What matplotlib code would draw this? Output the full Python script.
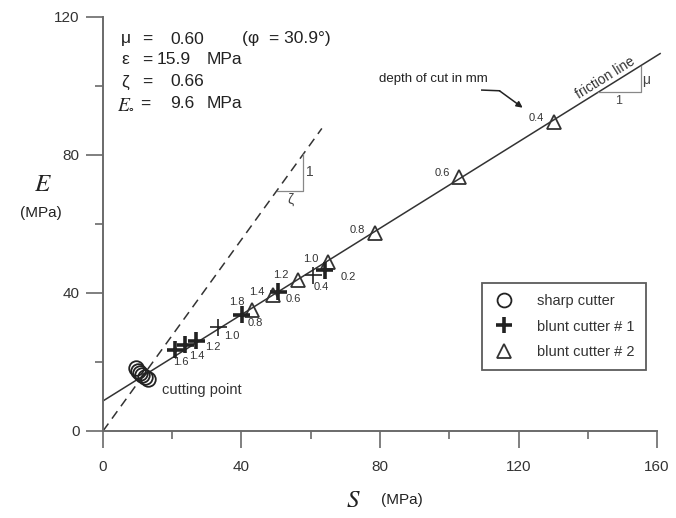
import matplotlib
matplotlib.use("Agg")
import matplotlib.pyplot as plt
import numpy as np

# ---------------- data ----------------
sharp_S = [9.4, 10.0, 10.7, 11.3, 12.1, 13.1]
sharp_E = [18.2, 17.5, 16.7, 16.2, 15.5, 15.0]

blunt1_depth = ["1.6", "1.4", "1.2", "1.0", "0.8", "0.6", "0.4", "0.2"]
blunt1_S = [20.8, 23.7, 26.9, 33.3, 40.1, 50.6, 60.7, 64.1]
blunt1_E = [23.5, 24.9, 26.1, 30.0, 33.6, 40.3, 45.1, 46.6]
blunt1_bold = [True, True, True, False, True, True, False, True]

blunt2_depth = ["1.8", "1.4", "1.2", "1.0", "0.8", "0.6", "0.4"]
blunt2_S = [42.9, 49.2, 56.4, 65.1, 78.6, 102.8, 130.3]
blunt2_E = [35.0, 39.4, 43.7, 49.0, 57.4, 73.5, 89.5]

friction_intercept = 8.7
friction_slope = 0.625
friction_S_end = 160.9
cutting_slope = 1.386
cutting_S_end = 63.2

x_major = [0, 40, 80, 120, 160]
x_minor = [20, 60, 100, 140]
y_major = [0, 40, 80, 120]
y_minor = [20, 60, 100]

legend_labels = ["sharp cutter", "blunt cutter # 1", "blunt cutter # 2"]

# ---------------- figure ----------------
W, H = 676, 518
fig = plt.figure(figsize=(W / 100, H / 100), dpi=100)
ax = fig.add_axes([103 / W, 1 - 431 / H, 554 / W, 414.5 / H])
ax.set_xlim(0, 160)
ax.set_ylim(0, 120)

def P(x, y):
    return (x / W, 1 - y / H)

sans = "Liberation Sans"
ink = "#222222"
grey = "#6a6a6a"

for s in ["top", "right"]:
    ax.spines[s].set_visible(False)
for s in ["left", "bottom"]:
    ax.spines[s].set_color(grey)
    ax.spines[s].set_linewidth(1.4)

ax.set_xticks(x_major)
ax.set_xticks(x_minor, minor=True)
ax.set_yticks(y_major)
ax.set_yticks(y_minor, minor=True)
ax.tick_params(which="major", direction="out", length=12, width=1.2, color=grey,
               labelsize=11, labelcolor="#333333", pad=5)
ax.tick_params(axis="x", which="major", pad=9)
ax.tick_params(which="minor", direction="out", length=6, width=1.2, color=grey)
for lab in ax.get_xticklabels() + ax.get_yticklabels():
    lab.set_fontfamily(sans)

# lines
fs = np.array([0, friction_S_end])
ax.plot(fs, friction_intercept + friction_slope * fs, color="#333333", lw=1.1,
        clip_on=False, zorder=2)
cs = np.array([0, cutting_S_end])
ax.plot(cs, cutting_slope * cs, color="#333333", lw=1.1, ls=(0, (6, 4)),
        clip_on=False, zorder=2)

# slope triangles
s1, s2 = 143.0, 155.3
e1 = friction_intercept + friction_slope * s1
e2 = friction_intercept + friction_slope * s2
ax.plot([s1, s2, s2], [e1, e1, e2], color="#888888", lw=0.9, zorder=2)
ax.text(s2 + 1.7, (e1 + e2) / 2 - 0.2, "μ", fontsize=10, family=sans, color="#444444",
        ha="center", va="center")
ax.text((s1 + s2) / 2 - 0.3, e1 - 2.6, "1", fontsize=9, family=sans, color="#444444",
        ha="center", va="center")

z2 = 57.8
ze1 = 69.6
ze2 = cutting_slope * z2
z1 = ze1 / cutting_slope
ax.plot([z1, z2, z2], [ze1, ze1, ze2], color="#888888", lw=0.9, zorder=2)
ax.text(z2 + 1.8, (ze1 + ze2) / 2, "1", fontsize=10, family=sans, color="#444444",
        ha="center", va="center")
ax.text((z1 + z2) / 2, ze1 - 2.7, "ζ", fontsize=10, family=sans, color="#444444",
        ha="center", va="center")

# markers
ax.plot(sharp_S, sharp_E, ls="none", marker="o", ms=10.5, mfc="none", mec=ink,
        mew=1.3, zorder=4)
lws = [2.6 if b else 1.2 for b in blunt1_bold]
ax.scatter(blunt1_S, blunt1_E, marker="+", s=150, c=ink, linewidths=lws, zorder=5)
ax.plot(blunt2_S, blunt2_E, ls="none", marker="^", ms=9.5, mfc="none", mec="#333333",
        mew=1.3, zorder=4)

# depth labels
off1 = [(6, -12), (12, -11), (17, -6), (13, -9), (13, -8), (15, -7), (8, -12), (23, -7)]
for d, x, y, o in zip(blunt1_depth, blunt1_S, blunt1_E, off1):
    ax.annotate(d, (x, y), xytext=o, textcoords="offset pixels", fontsize=8,
                family=sans, color="#333333", ha="center", va="center")
off2 = [(-15, 8), (-17, 3), (-17, 5), (-18, 3), (-18, 3), (-17, 4), (-18, 4)]
for d, x, y, o in zip(blunt2_depth, blunt2_S, blunt2_E, off2):
    ax.annotate(d, (x, y), xytext=o, textcoords="offset pixels", fontsize=8,
                family=sans, color="#333333", ha="center", va="center")

# annotations
ax.text(17.0, 11.9, "cutting point", fontsize=10.5, family=sans, color="#333333",
        ha="left", va="center")
ang = np.degrees(np.arctan(friction_slope * 3.454 / 3.4625))
ax.text(145.0, 102.2, "friction line", fontsize=10, family=sans, color="#333333",
        ha="center", va="center", rotation=ang, rotation_mode="anchor")
ax.text(95.5, 102.0, "depth of cut in mm", fontsize=9.5, family=sans, color="#222222",
        ha="center", va="center")
ax.plot([109.4, 114.5], [98.7, 98.5], color="#222222", lw=1.1)
ax.annotate("", xy=(121.2, 93.6), xytext=(114.5, 98.5),
            arrowprops=dict(arrowstyle="-|>", color="#222222", lw=1.1,
                            mutation_scale=9, shrinkA=0, shrinkB=0))

# parameter block
tk = dict(fontsize=12.5, family=sans, color="#222222", va="center", ha="left")
fig.text(*P(121, 39), "μ", **tk)
fig.text(*P(142, 39), "=", **tk)
fig.text(*P(170, 39), "0.60", **tk)
fig.text(*P(242, 39), "(φ  = 30.9°)", **tk)
fig.text(*P(121, 60), "ε", **tk)
fig.text(*P(142, 60), "=", **tk)
fig.text(*P(157, 60), "15.9", **tk)
fig.text(*P(207, 60), "MPa", **tk)
fig.text(*P(121, 82), "ζ", **tk)
fig.text(*P(142, 82), "=", **tk)
fig.text(*P(170, 82), "0.66", **tk)
fig.text(*P(117, 104), r"$E_{\circ}$", fontsize=14, math_fontfamily="stix",
         color="#222222", va="center", ha="left")
fig.text(*P(140, 104), "=", **tk)
fig.text(*P(170, 104), "9.6", **tk)
fig.text(*P(207, 104), "MPa", **tk)

# axis labels
fig.text(*P(43, 184), r"$E$", fontsize=18, math_fontfamily="stix", color="#222222",
         ha="center", va="center")
fig.text(*P(41, 213), "(MPa)", fontsize=11, family=sans, color="#222222",
         ha="center", va="center")
fig.text(*P(353, 500), r"$S$", fontsize=18, math_fontfamily="stix", color="#222222",
         ha="center", va="center")
fig.text(*P(402, 500), "(MPa)", fontsize=11, family=sans, color="#222222",
         ha="center", va="center")

# legend
h1, = ax.plot([], [], ls="none", marker="o", ms=10, mfc="none", mec=ink, mew=1.3)
h2, = ax.plot([], [], ls="none", marker="+", ms=12, mec=ink, mew=2.6)
h3, = ax.plot([], [], ls="none", marker="^", ms=9.5, mfc="none", mec="#333333", mew=1.3)
leg = ax.legend([h1, h2, h3], legend_labels, loc="upper left",
                bbox_to_anchor=((482 - 103) / 554, (431 - 283) / 414.5),
                frameon=True, fancybox=False, borderaxespad=0,
                prop=dict(family=sans, size=10.5), borderpad=0.75, handlelength=1.45,
                handletextpad=1.6, labelspacing=0.8)
leg.get_frame().set_edgecolor("#333333")
leg.get_frame().set_linewidth(1.3)
for t in leg.get_texts():
    t.set_color("#333333")

fig.savefig("out.png", dpi=100, facecolor="white")
